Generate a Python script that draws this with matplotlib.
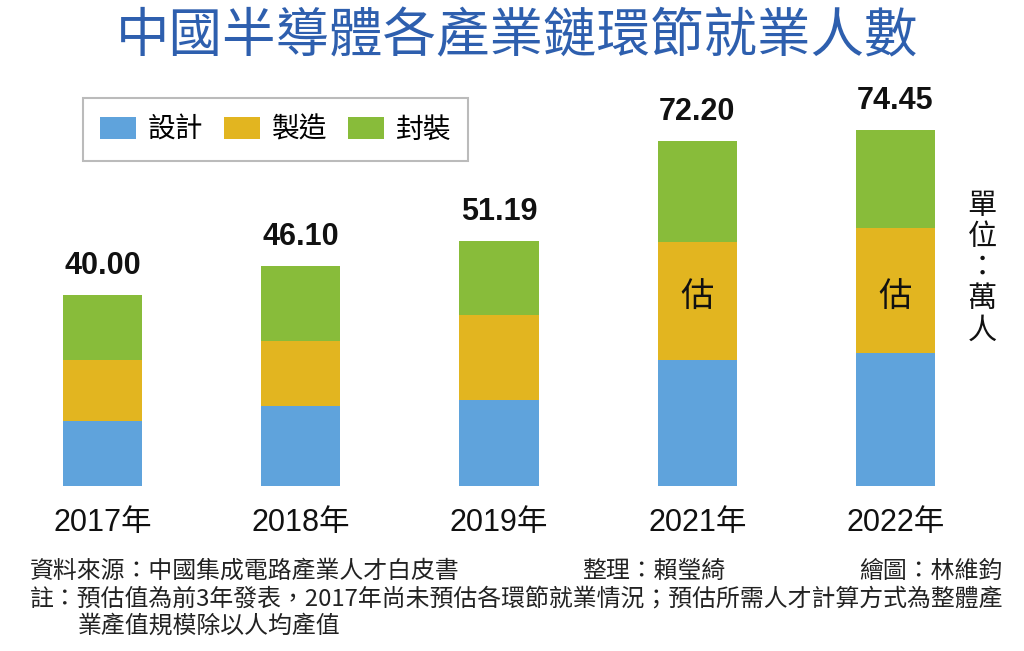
import numpy as np
import matplotlib
matplotlib.use("Agg")
import matplotlib.pyplot as plt

plt.rcParams['font.family'] = ['Noto Sans CJK TC', 'DejaVu Sans']

# data (unit: 10k people)
years = ["2017年", "2018年", "2019年", "2021年", "2022年"]
totals = ["40.00", "46.10", "51.19", "72.20", "74.45"]
design = [13.6, 16.7, 18.0, 26.4, 27.8]
manufacture = [12.8, 13.6, 17.8, 24.7, 26.2]
packaging = [13.6, 15.8, 15.4, 21.1, 20.45]
estimated = [False, False, False, True, True]
series_names = ["設計", "製造", "封裝"]

colors = ["#5FA3DC", "#E2B520", "#88BC3A"]
W, H = 1024, 651

fig = plt.figure(figsize=(W / 100, H / 100), dpi=100)
fig.patch.set_facecolor("white")

# axes placed so that bars land on the same pixels as the reference
base_px = 486
left_px, right_px = 3.4, 994.6
ax = fig.add_axes([left_px / W, (H - base_px) / H,
                   (right_px - left_px) / W, 382.4 / H])
ax.set_xlim(-0.5, 4.5)
ax.set_ylim(0, 80)
ax.axis("off")

x = np.arange(len(years))
bottom = np.zeros(len(years))
handles = []
for vals, col in zip([design, manufacture, packaging], colors):
    b = ax.bar(x, vals, 0.40, bottom=bottom, color=col, linewidth=0)
    handles.append(b)
    bottom = bottom + np.array(vals)

# totals above the bars
for i, t in enumerate(totals):
    ax.annotate(t, (x[i], bottom[i]), xytext=(0, 10), textcoords="offset points",
                ha="center", va="bottom", fontsize=22, fontweight="bold",
                family=["Liberation Sans", "DejaVu Sans"], color="#111111")

# "估" marks on estimated years, same height on every bar
est_y = 39.5
for i, est in enumerate(estimated):
    if est:
        ax.text(x[i], est_y, "估", ha="center", va="center", fontsize=24,
                color="#111111")

# year labels under the bars
for i, y in enumerate(years):
    ax.text(x[i], -7.7, y, ha="center", va="center", fontsize=22,
            family=["Liberation Sans", "Noto Sans CJK TC"], color="#111111",
            clip_on=False)

# title
fig.text(517 / W, 1 - 37 / H, "中國半導體各產業鏈環節就業人數", ha="center",
         va="center", fontsize=38.5, color="#2E5FAE")

# legend
leg = fig.legend([h[0] for h in handles], series_names, loc="upper left",
                 bbox_to_anchor=(83 / W, 1 - 98 / H), ncol=3, frameon=True,
                 fancybox=False, edgecolor="#AAAAAA", borderaxespad=0,
                 fontsize=20, handlelength=1.3, handleheight=0.85,
                 handletextpad=0.42, columnspacing=0.75, borderpad=0.6)
leg.get_frame().set_linewidth(1.5)

# unit, vertical
fig.text(982 / W, 1 - 268 / H, "單\n位\n：\n萬\n人", ha="center", va="center",
         fontsize=21, linespacing=1.05, color="#111111")

# footnotes
note_size = 17.2
fig.text(30 / W, 1 - 571 / H, "資料來源：中國集成電路產業人才白皮書",
         ha="left", va="center", fontsize=note_size, color="#222222")
fig.text(582 / W, 1 - 571 / H, "整理：賴瑩綺", ha="left", va="center",
         fontsize=note_size, color="#222222")
fig.text(1002 / W, 1 - 571 / H, "繪圖：林維鈞", ha="right", va="center",
         fontsize=note_size, color="#222222")
fig.text(30 / W, 1 - 599 / H,
         "註：預估值為前3年發表，2017年尚未預估各環節就業情況；預估所需人才計算方式為整體產",
         ha="left", va="center", fontsize=note_size, color="#222222")
fig.text(78 / W, 1 - 626 / H, "業產值規模除以人均產值", ha="left", va="center",
         fontsize=note_size, color="#222222")

fig.savefig("out.png", dpi=100, facecolor="white")
